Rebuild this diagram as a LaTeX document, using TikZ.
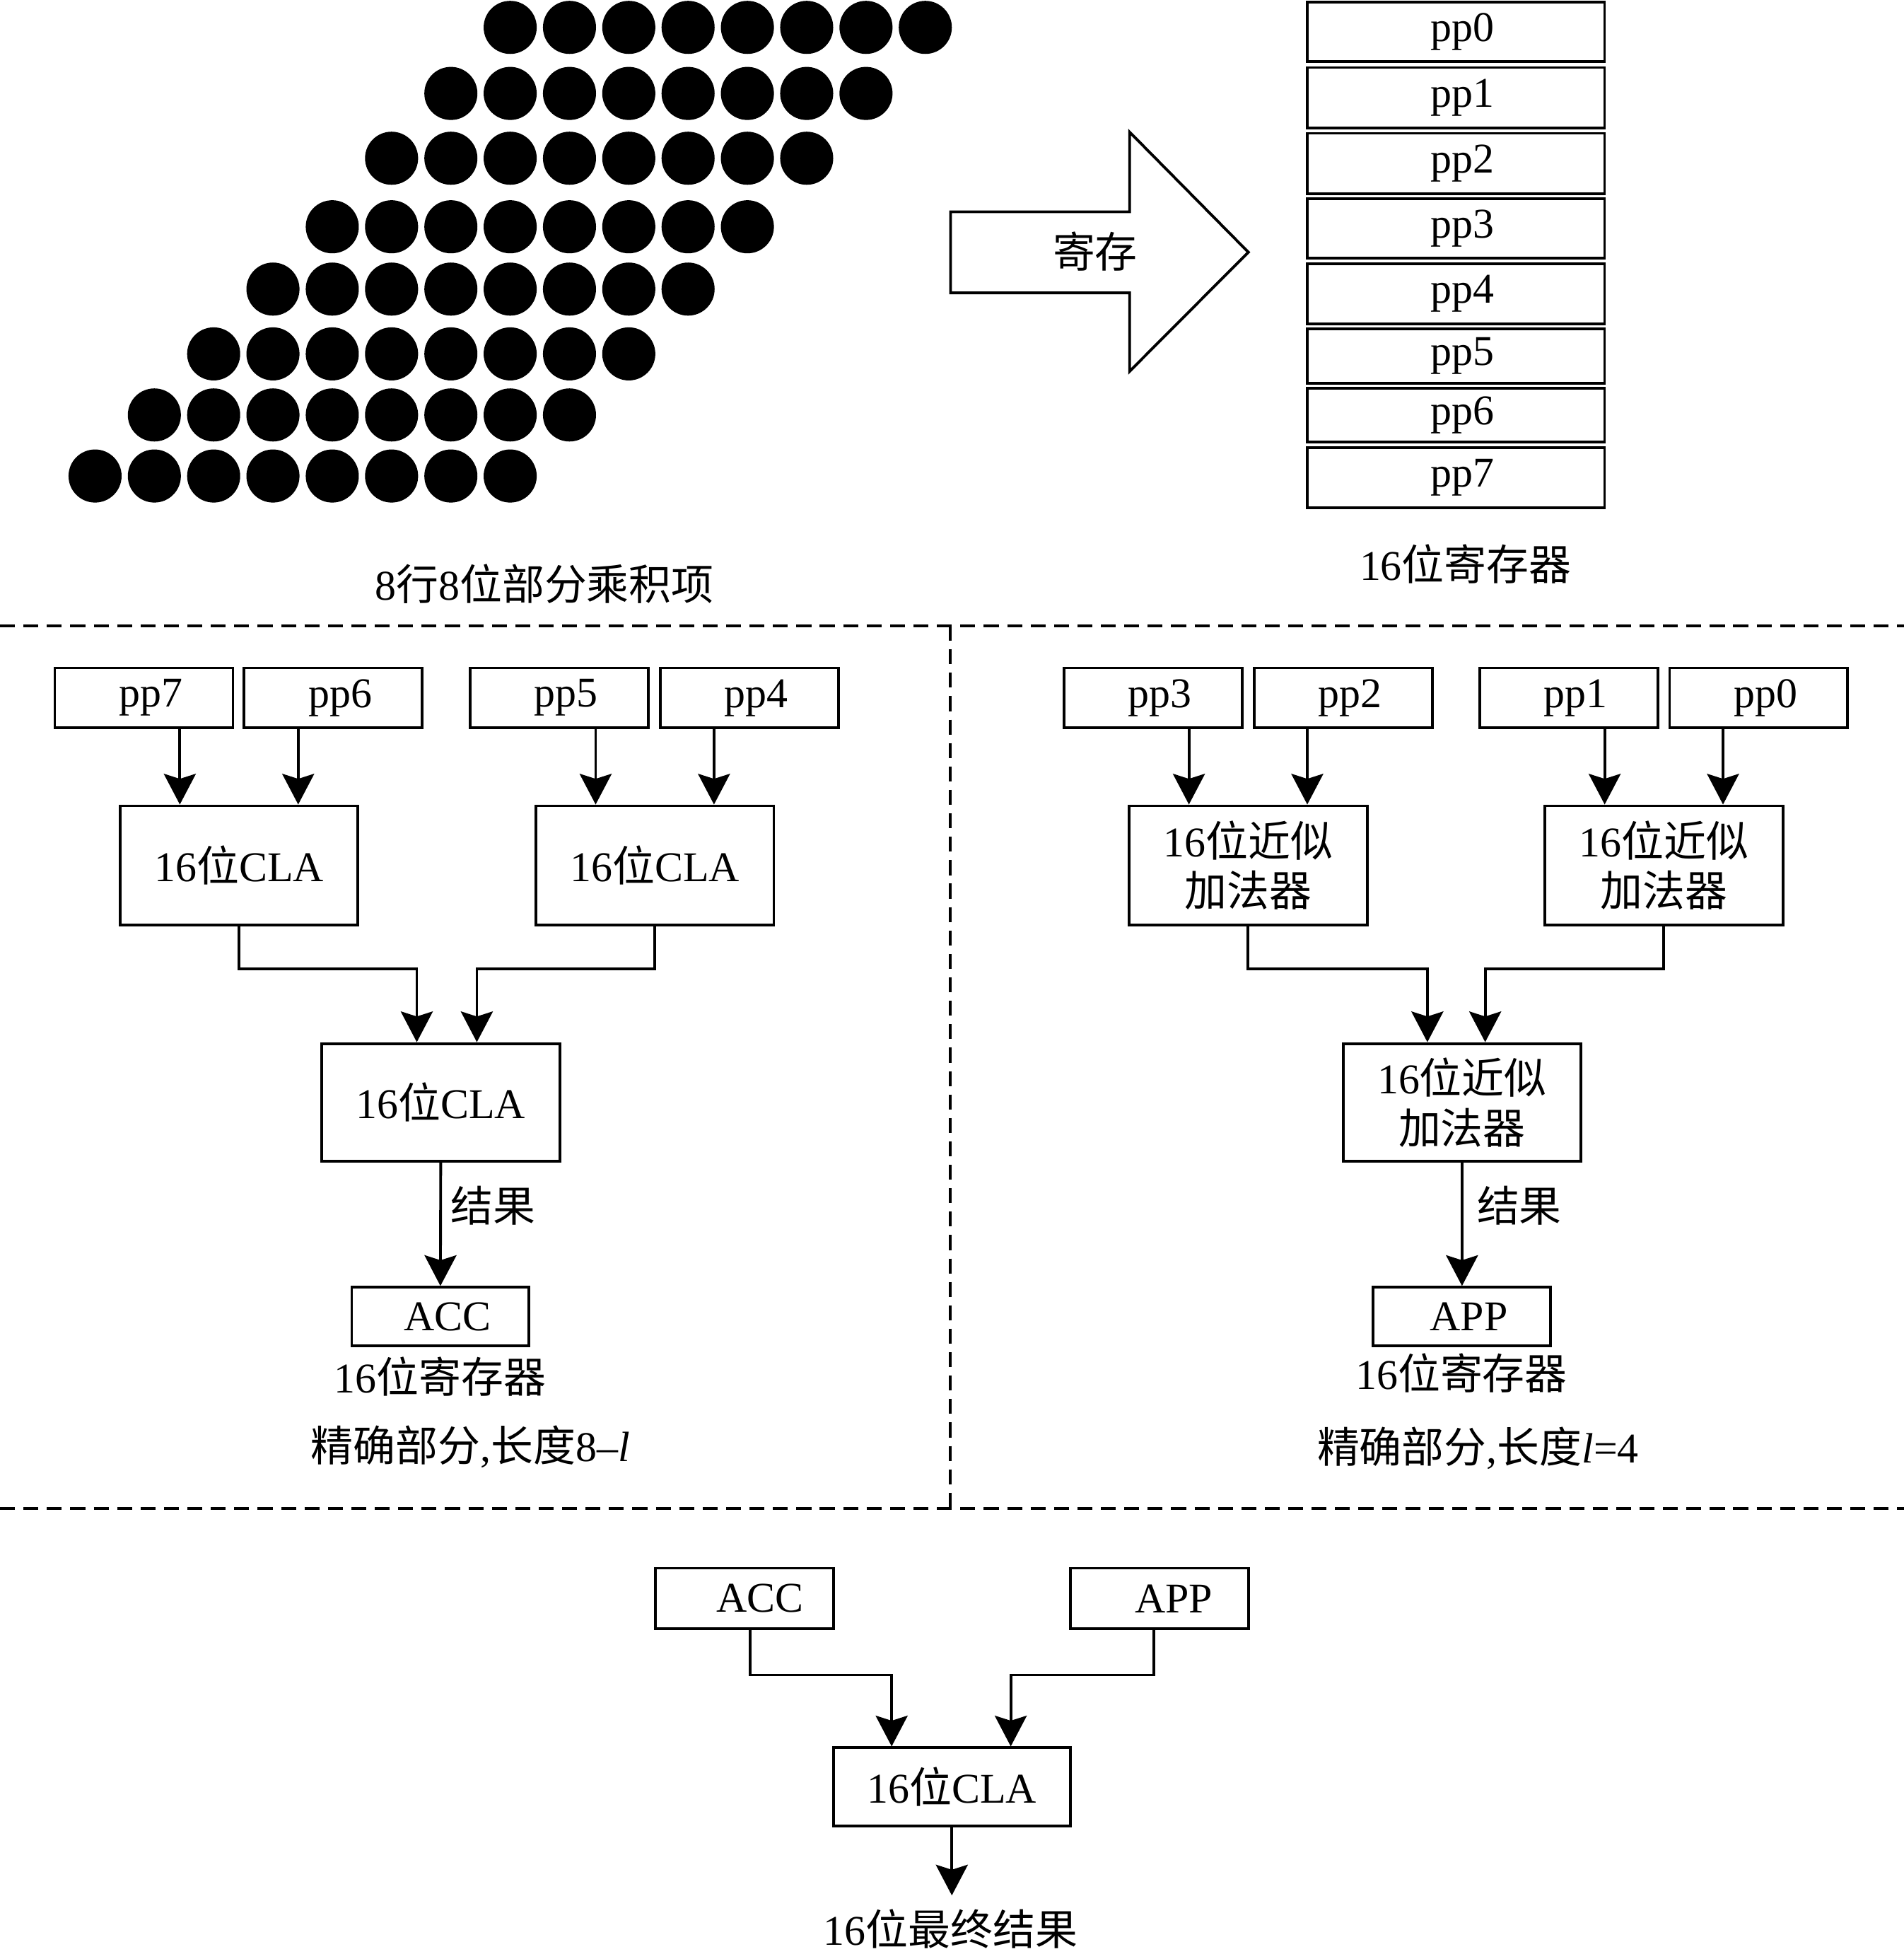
\documentclass[tikz,border=0pt]{standalone}
\usepackage{fontspec}
\setmainfont{Liberation Serif}
\newfontfamily\zhfont{Noto Sans CJK SC}
\newcommand{\zh}[1]{{\zhfont #1}}
\usetikzlibrary{arrows.meta}
\tikzset{
  regbox/.style={draw=drawColor, line width=1.1pt, inner sep=0pt, minimum width=71.5pt, minimum height=24pt,
    execute at begin node=\hspace*{5.5pt}},
  addbox/.style={draw=drawColor, line width=1.1pt, inner sep=0pt, minimum width=95.5pt, minimum height=47.8pt, align=center},
  wire/.style={draw=drawColor, line width=1.1pt},
  arr/.style={wire, -{Stealth[length=12.3pt,width=12.8pt,inset=2pt]}},
  sepline/.style={draw=drawColor, line width=1.1pt, dash pattern=on 6pt off 3.4pt},
  txt/.style={inner sep=0pt, outer sep=0pt}
}
\begin{document}
\begin{tikzpicture}[x=0.5pt,y=0.5pt,font=\fontsize{17}{20}\selectfont]
\definecolor{drawColor}{RGB}{0,0,0}
\definecolor{fillColor}{RGB}{255,255,255}
\path[use as bounding box,fill=fillColor] (0,0) rectangle (1528,1568);

% partial products
\foreach \r/\y in {0/1546,1/1493,2/1441,3/1386,4/1336,5/1284,6/1235,7/1186}
  \foreach \c in {0,...,7}
    \fill[drawColor] ({409.5-47.6*\r+47.6*\c},\y) circle (10.65pt);
\node[txt] (pplabel) at (437,1099.4) {8\zh{行}8\zh{位部分乘积项}};

% store arrow
\path[draw=drawColor,line width=1.1pt,fill=fillColor] (763,1398) -- (906.7,1398) --
	(906.7,1462) -- (1002,1365.6) -- (906.7,1270) --
	(906.7,1333) -- (763,1333) -- cycle;
\node[txt] (store) at (879,1366) {\zh{寄存}};

% register file
\foreach \i/\y/\h in {0/1542.5/23.9,1/1489.6/24.2,2/1436.7/24.3,3/1384.7/23.9,4/1332.1/24.15,5/1282.2/21.8,6/1234.7/21.5,7/1184.6/24.05}
  \node[regbox,minimum width=119.35pt,minimum height=\h pt] (st\i) at (1168.6,\y) {pp\i};
\node[txt] (stlabel) at (1176.3,1115.3) {16\zh{位寄存器}};

% separators
\path[sepline] (0,1065.7) -- (1528,1065.7);
\path[sepline] (0,357.3) -- (1528,357.3);
\path[sepline] (762.7,1065.7) -- (762.7,357.3);

% exact part
\node[regbox] (pp7) at (115.5,1008) {pp7};
\node[regbox] (pp6) at (267.5,1008) {pp6};
\node[regbox] (pp5) at (449,1008) {pp5};
\node[regbox] (pp4) at (601.5,1008) {pp4};
\node[addbox] (cla1) at (191.85,873.5) {16\zh{位}CLA};
\node[addbox] (cla2) at (525.6,873.5) {16\zh{位}CLA};
\node[addbox,minimum height=47.3pt] (cla3) at (353.75,683.3) {16\zh{位}CLA};
\node[regbox,minimum width=71.2pt,minimum height=23.5pt] (acc) at (353.5,511.5) {ACC};

\draw[arr] ([xshift=-23.75pt]cla1.north |- pp7.south) -- ([xshift=-23.75pt]cla1.north);
\draw[arr] ([xshift=23.75pt]cla1.north |- pp6.south) -- ([xshift=23.75pt]cla1.north);
\draw[arr] ([xshift=-23.75pt]cla2.north |- pp5.south) -- ([xshift=-23.75pt]cla2.north);
\draw[arr] ([xshift=23.75pt]cla2.north |- pp4.south) -- ([xshift=23.75pt]cla2.north);
\draw[arr] (cla1.south) -- ++(0,-34.3) -| ([xshift=-9.6pt]cla3.north);
\draw[arr] (cla2.south) -- ++(0,-34.3) -| ([xshift=14.5pt]cla3.north);
\draw[arr] (cla3.south) -- node[txt,right=4pt,pos=0.35] (res1) {\zh{结果}} (acc.north);
\node[txt] (acclabel) at (353.3,463.4) {16\zh{位寄存器}};
\node[txt] (exact) at (377.6,407) {\zh{精确部分},\zh{长度}8\textendash\textit{l}};

% approximate part
\node[regbox] (pp3) at (925.7,1008) {pp3};
\node[regbox] (pp2) at (1078.1,1008) {pp2};
\node[regbox] (pp1) at (1259.4,1008) {pp1};
\node[regbox] (pp0) at (1411.6,1008) {pp0};
\node[addbox] (apx1) at (1001.8,873.5) {16\zh{位近似}\\\zh{加法器}};
\node[addbox] (apx2) at (1335.5,873.5) {16\zh{位近似}\\\zh{加法器}};
\node[addbox,minimum height=47.3pt] (apx3) at (1173.5,683.3) {16\zh{位近似}\\\zh{加法器}};
\node[regbox,minimum width=71.2pt,minimum height=23.5pt,execute at begin node={}] (app) at (1173.5,511.5) {APP};

\draw[arr] ([xshift=-23.75pt]apx1.north |- pp3.south) -- ([xshift=-23.75pt]apx1.north);
\draw[arr] ([xshift=23.75pt]apx1.north |- pp2.south) -- ([xshift=23.75pt]apx1.north);
\draw[arr] ([xshift=-23.75pt]apx2.north |- pp1.south) -- ([xshift=-23.75pt]apx2.north);
\draw[arr] ([xshift=23.75pt]apx2.north |- pp0.south) -- ([xshift=23.75pt]apx2.north);
\draw[arr] (apx1.south) -- ++(0,-34.3) -| ([xshift=-13.9pt]apx3.north);
\draw[arr] (apx2.south) -- ++(0,-34.3) -| ([xshift=9.3pt]apx3.north);
\draw[arr] (apx3.south) -- node[txt,right=6pt,pos=0.35] (res2) {\zh{结果}} (app.north);
\node[txt] (applabel) at (1173,466) {16\zh{位寄存器}};
\node[txt] (approx) at (1186.3,406) {\zh{精确部分},\zh{长度}\textit{l}=4};

% final sum
\node[regbox,minimum height=24.4pt,execute at begin node=\hspace*{7pt}] (acc2) at (597.4,285.2) {ACC};
\node[regbox,minimum height=24.4pt,execute at begin node=\hspace*{6pt}] (app2) at (930.7,285.2) {APP};
\node[addbox,minimum width=95pt,minimum height=31.5pt] (cla4) at (764,134) {16\zh{位}CLA};
\coordinate (sum) at (764,47);
\draw[arr] ([xshift=2.4pt]acc2.south) -- ++(0,-35.8) -| ([xshift=-24.15pt]cla4.north);
\draw[arr] ([xshift=-2.2pt]app2.south) -- ++(0,-35.8) -| ([xshift=23.65pt]cla4.north);
\draw[arr] (cla4.south) -- (sum);
\node[txt] (sumlabel) at (763,20) {16\zh{位最终结果}};
\end{tikzpicture}
\end{document}
